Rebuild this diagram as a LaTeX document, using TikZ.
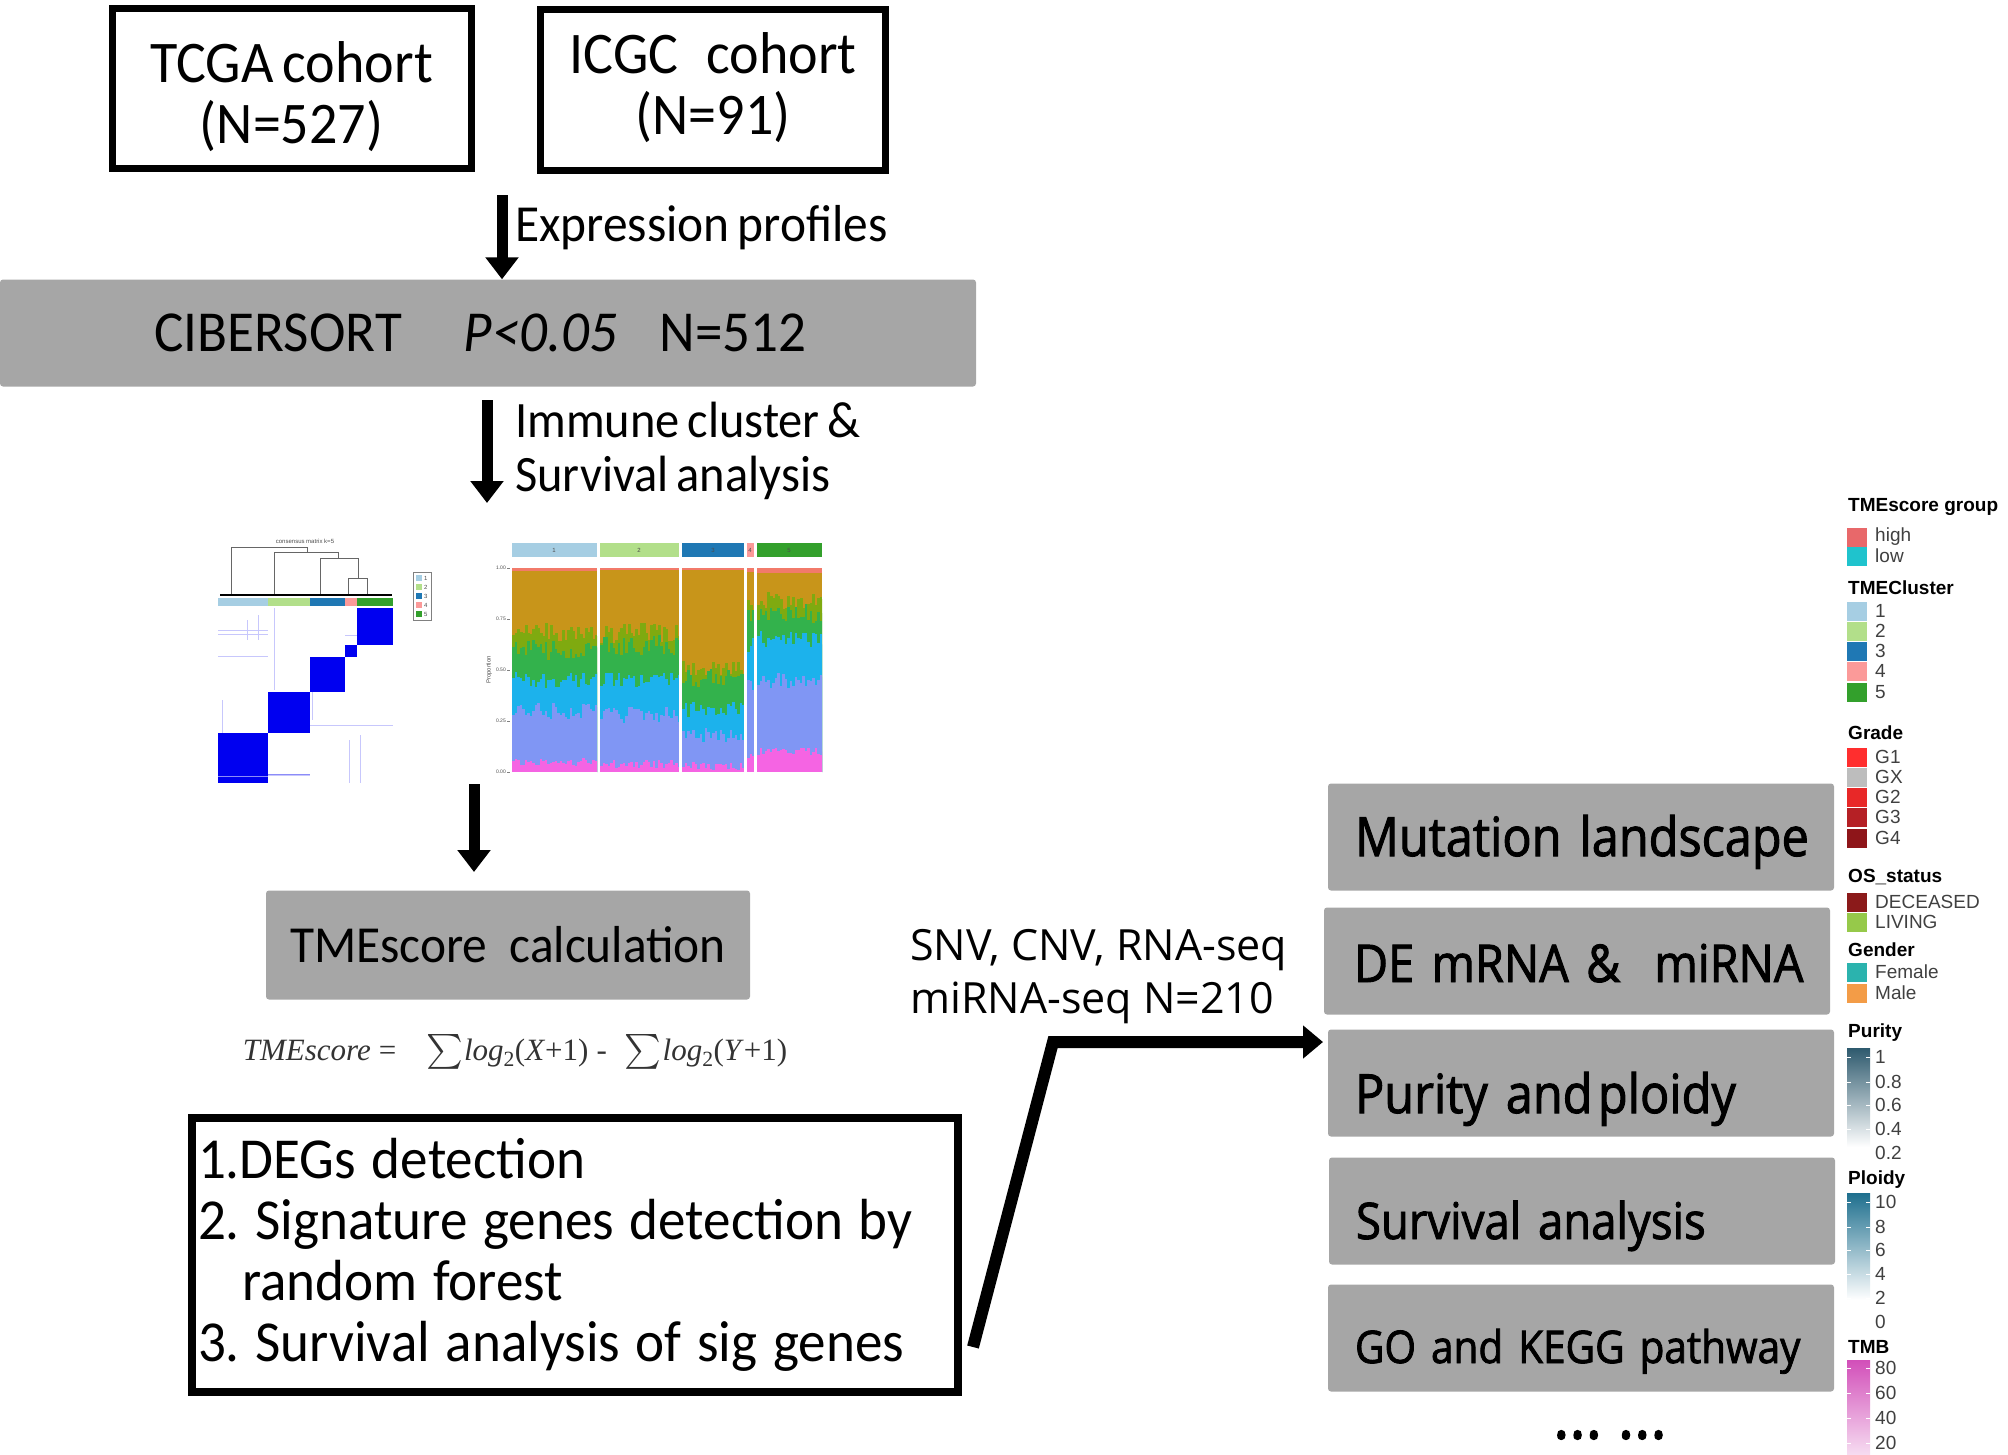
\documentclass[tikz,border=0pt]{standalone}
\usepackage{fontspec}
\usepackage{exscale}
\setmainfont[FakeStretch=0.95,WordSpace=0.72]{Carlito}
\newfontfamily\boxfont[FakeBold=1.8,FakeStretch=0.9]{Open Sans}
\newfontfamily\snvfont{Open Sans}
\newfontfamily\lgfont{Liberation Sans}
\newfontfamily\tnr{Liberation Serif}
\usetikzlibrary{arrows.meta,calc}
\definecolor{boxgray}{HTML}{A6A6A6}
\definecolor{hblue}{HTML}{0000F0}
\definecolor{k1}{HTML}{A6CEE3}
\definecolor{k2}{HTML}{B2DF8A}
\definecolor{k3}{HTML}{1F78B4}
\definecolor{k4}{HTML}{FB9A99}
\definecolor{k5}{HTML}{33A02C}
\definecolor{cpink}{HTML}{F564E3}
\definecolor{cperi}{HTML}{8096F4}
\definecolor{ccyan}{HTML}{1CB2EC}
\definecolor{cgreen}{HTML}{33B24C}
\definecolor{colive}{HTML}{7FAA10}
\definecolor{cgold}{HTML}{C8951A}
\definecolor{csalmon}{HTML}{F27A6A}
\definecolor{lhigh}{HTML}{E8686A}
\definecolor{llow}{HTML}{1FC3CD}
\definecolor{gone}{HTML}{FF2E2E}
\definecolor{gx}{HTML}{BDBDBD}
\definecolor{gtwo}{HTML}{E82828}
\definecolor{gthree}{HTML}{B52025}
\definecolor{gfour}{HTML}{8E1519}
\definecolor{dec}{HTML}{8B1A1A}
\definecolor{liv}{HTML}{96C94A}
\definecolor{fem}{HTML}{2BB3AE}
\definecolor{mal}{HTML}{F39C47}
\definecolor{pur}{HTML}{2E5A6E}
\definecolor{plo}{HTML}{1E6F8E}
\definecolor{tmb}{HTML}{D24FB9}
\frenchspacing
\begin{document}
\begin{tikzpicture}[x=1pt,y=-1pt,
  cohort/.style={draw, line width=7pt, align=center, inner sep=0pt, font=\fontsize{59}{61}\selectfont},
  gbox/.style={fill=boxgray, rounded corners=3pt, inner sep=0pt},
  rbox/.style={gbox, minimum height=107pt, text width=452pt, inner xsep=27pt, text depth=0pt, align=left},
  lbl/.style={inner sep=0pt, font=\fontsize{52}{56}\selectfont},
  fat/.style={line width=11pt, -{Triangle[width=32pt,length=22pt]}},
  conn/.style={line width=12pt, line join=miter, -{Triangle[width=32pt,length=20pt]}},
  lgtitle/.style={font=\lgfont\bfseries\fontsize{19}{21}\selectfont, anchor=west, inner sep=0pt},
  lglab/.style={font=\lgfont\fontsize{19}{21}\selectfont, anchor=west, inner sep=0pt, text=black!75},
  tiny/.style={font=\lgfont\fontsize{6}{7}\selectfont, inner sep=0pt, text=black!70}]
\useasboundingbox (0,0) rectangle (2008,1454);

% ---------- top ----------
\node[cohort, minimum width=359pt, minimum height=160pt] (tcga) at (291.5,88)
  {\raisebox{-13pt}[\height][\depth]{\begin{tabular}{@{}c@{}}TCGA cohort\\(N=527)\end{tabular}}};
\node[cohort, minimum width=345pt, minimum height=161pt] (icgc) at (713,90)
  {\raisebox{-2pt}[\height][\depth]{\begin{tabular}{@{}c@{}}ICGC\hspace{28pt}cohort\\(N=91)\end{tabular}}};
\node[gbox, minimum width=976pt, minimum height=107pt, font=\fontsize{58}{60}\selectfont] (cib) at (488,333)
  {CIBERSORT\hspace{62pt}\textit{P<0.05}\hspace{42pt}N=512\hspace*{15pt}};
\coordinate (a1s) at (502,195);
\draw[fat] (a1s) -- (a1s |- cib.north);
\node[lbl, anchor=west] (expr) at (515,228) {Expression profiles};

\coordinate (a2s) at (487,400);
\coordinate (a2e) at (487,503);
\draw[fat] (a2s) -- (a2e);
\node[lbl, anchor=west, align=left, font=\fontsize{51}{54}\selectfont] (immune) at (515,451) {Immune cluster \&\\Survival analysis};

% ---------- consensus heatmap ----------
\fill[k1] (218,598) rectangle (268,606);
\fill[k2] (268,598) rectangle (310,606);
\fill[k3] (310,598) rectangle (345,606);
\fill[k4] (345,598) rectangle (357,606);
\fill[k5] (357,598) rectangle (393,606);
\begin{scope}[hblue!22, line width=0.8pt]
  \draw (218,630) -- (268,630); \draw (218,634) -- (268,634); \draw (218,656) -- (268,656);
  \draw (274,608) -- (274,690); \draw (258,615) -- (258,640); \draw (247,620) -- (247,640);
  \draw (222,700) -- (222,735); \draw (349,740) -- (349,783); \draw (360,735) -- (360,783);
  \draw (268,775) -- (310,775); \draw (268,692) -- (310,692); \draw (345,635) -- (393,635);
  \draw (312,680) -- (312,720); \draw (310,725) -- (393,725);
\end{scope}
\fill[hblue] (357,608) rectangle (393,645);
\fill[hblue] (345,645) rectangle (357,657);
\fill[hblue] (310,657) rectangle (345,692);
\fill[hblue] (268,692) rectangle (310,733);
\fill[hblue] (218,733) rectangle (268,783);
\draw[hblue!45, line width=1pt] (218,776) -- (268,776) (268,774) -- (310,774);
\begin{scope}[black!60, line width=1pt]
  \draw (231,594) -- (231,547) -- (307,547) -- (307,552);
  \draw (274,594) -- (274,552) -- (338,552) -- (338,558);
  \draw (320,594) -- (320,558) -- (358,558) -- (358,578);
  \draw (348,594) -- (348,578) -- (367,578) -- (367,594);
\end{scope}
\draw[black, line width=1.5pt] (220,595) -- (392,595);
\node[tiny] (hmtitle) at (305,541) {consensus matrix k=5};
\draw[black!50, line width=0.5pt] (413,572) rectangle (431,620);
\foreach \c/\yy/\t in {k1/578/1,k2/587/2,k3/596/3,k4/605/4,k5/614/5}{
  \fill[\c] (416,\yy-3) rectangle (422,\yy+3);
  \node[tiny, anchor=west] at (424,\yy) {\t};
}

% ---------- stacked bar chart ----------
\pgfmathsetseed{7}
\foreach \xa/\xb/\pa/\pb/\pc/\pd/\pe/\tp in {512/597/0.05/0.30/0.45/0.60/0.68/0.985, 600/679/0.04/0.28/0.45/0.62/0.68/0.99, 682/744/0.03/0.18/0.31/0.46/0.50/0.99, 747/754/0.08/0.42/0.62/0.75/0.82/0.98, 757/822/0.10/0.45/0.65/0.78/0.84/0.975}{
  \fill[csalmon] (\xa,568) rectangle (\xb,772);
  \fill[cgold] (\xa,{772-204*\tp}) rectangle (\xb,772);
  \pgfmathtruncatemacro\ncol{(\xb-\xa)/2.5}
  \foreach \i in {0,...,\ncol}{
    \pgfmathsetmacro\xl{\xa+\i*2.5}
    \pgfmathsetmacro\xr{min(\xl+3,\xb)}
    \pgfmathsetmacro\ve{772-204*(\pe+0.05*rand)}
    \pgfmathsetmacro\vd{772-204*(\pd+0.05*rand)}
    \pgfmathsetmacro\vc{772-204*(\pc+0.04*rand)}
    \pgfmathsetmacro\vb{772-204*(\pb+0.04*rand)}
    \pgfmathsetmacro\va{772-204*(\pa+0.02*rand)}
    \fill[colive] (\xl,\ve) rectangle (\xr,772);
    \fill[cgreen] (\xl,\vd) rectangle (\xr,772);
    \fill[ccyan] (\xl,\vc) rectangle (\xr,772);
    \fill[cperi] (\xl,\vb) rectangle (\xr,772);
    \fill[cpink] (\xl,\va) rectangle (\xr,772);
  }
}
\fill[k1] (512,543) rectangle (597,557);
\fill[k2] (600,543) rectangle (679,557);
\fill[k3] (682,543) rectangle (744,557);
\fill[k4] (747,543) rectangle (754,557);
\fill[k5] (757,543) rectangle (822,557);
\foreach \xx/\t in {554/1,639/2,713/3,750/4,789/5}{\node[tiny] at (\xx,550) {\t};}
\foreach \yy/\t in {568/1.00,619/0.75,670/0.50,721/0.25,772/0.00}{
  \node[tiny, anchor=east, font=\lgfont\fontsize{5}{6}\selectfont] at (506,\yy) {\t};
  \draw[black!50, line width=0.5pt] (507,\yy) -- (510,\yy);
}
\node[tiny, rotate=90] (prop) at (489,670) {Proportion};

\coordinate (a3s) at (474,784);
\coordinate (a3e) at (474,872);
\draw[fat] (a3s) -- (a3e);

% ---------- TMEscore ----------
\node[gbox, minimum width=484pt, minimum height=109pt, font=\fontsize{52}{54}\selectfont] (tme) at (508,945) {TMEscore\hspace{22pt}calculation};
\node[inner sep=0pt, text=black!80, font=\tnr\fontsize{31}{34}\selectfont] (form) at (515,1052)
  {\textit{TMEscore}\hspace{8pt}=\hspace{30pt}{\fontsize{33}{33}\selectfont\scalebox{1.4}{$\sum$}}\hspace{1pt}\textit{log}\textsubscript{2}(\textit{X}+1)\hspace{8pt}-\hspace{18pt}{\fontsize{33}{33}\selectfont\scalebox{1.4}{$\sum$}}\hspace{1pt}\textit{log}\textsubscript{2}(\textit{Y}+1)};

\node[draw, line width=8pt, minimum width=766pt, minimum height=274pt, text width=754pt, inner xsep=6pt, align=left, font=\fontsize{58}{61}\selectfont] (sig) at (575,1255)
  {\spaceskip=0.27em\relax\mbox{1.DEGs detection}\\\mbox{2. Signature genes detection by}\\\mbox{\hspace*{44pt}random forest}\\\mbox{3. Survival analysis of sig genes}};

\node[inner sep=0pt, anchor=west, align=left, font=\snvfont\fontsize{43}{53}\selectfont] (snv) at (910,977) {SNV, CNV, RNA-seq\\miRNA-seq N=210};

% ---------- right boxes ----------
\node[rbox, text height=38pt, font=\boxfont\fontsize{54}{56}\selectfont] (mut) at (1581,837) {\mbox{Mutation landscape}};
\node[rbox, text height=42pt, font=\boxfont\fontsize{52}{56}\selectfont] (de) at (1577,961) {\mbox{\hspace*{3pt}DE mRNA \&\hspace{34pt}miRNA}};
\node[rbox, text height=60pt, font=\boxfont\fontsize{54}{56}\selectfont] (puri) at (1581,1083) {\mbox{Purity and\hspace{0.1em}ploidy}};
\node[rbox, text height=56pt, font=\boxfont\fontsize{50.5}{56}\selectfont] (surv) at (1582,1211) {\mbox{Survival analysis}};
\node[rbox, text height=50pt, font=\boxfont\fontsize{45}{56}\selectfont] (go) at (1581,1338) {\mbox{GO and KEGG pathway}};
\node[inner sep=0pt, font=\boxfont\fontsize{68}{68}\selectfont] (dots) at (1610,1435) {... ...};

\coordinate (c0) at (973,1347);
\coordinate (c1) at (1053,1042);
\coordinate (c2) at (1323,1042);
\draw[conn] (c0) -- (c1) -- (c2);

% ---------- legend ----------
\node[lgtitle] at (1848,507) {TMEscore group};
\node[lgtitle] at (1848,588) {TMECluster};
\node[lgtitle] at (1848,733) {Grade};
\node[lgtitle] at (1848,877) {OS\_status};
\node[lgtitle] at (1848,950) {Gender};
\node[lgtitle] at (1848,1033) {Purity};
\node[lgtitle] at (1848,1180) {Ploidy};
\node[lgtitle] at (1848,1347) {TMB};
\foreach \c/\yy/\t in {lhigh/537/high, llow/556/low, k1/611/1, k2/631/2, k3/651/3, k4/671/4, k5/692/5,
  gone/757/G1, gx/777/GX, gtwo/797/G2, gthree/817/G3, gfour/838/G4, dec/902/DECEASED, liv/922/LIVING,
  fem/972/Female, mal/993/Male}{
  \fill[\c] (1847,\yy-9.5) rectangle (1867,\yy+9.5);
  \node[lglab] at (1875,\yy) {\t};
}
\shade[top color=pur, bottom color=white] (1847,1048) rectangle (1870,1147);
\shade[top color=plo, bottom color=white] (1847,1193) rectangle (1870,1300);
\shade[top color=tmb, bottom color=tmb!20] (1847,1360) rectangle (1870,1454);
\foreach \yy/\t in {1057/1, 1082/0.8, 1105/0.6, 1129/0.4, 1153/0.2, 1202/10, 1227/8, 1250/6, 1274/4, 1298/2, 1322/0, 1368/80, 1393/60, 1418/40, 1443/20}{
  \node[lglab] at (1875,\yy) {\t};
}
\foreach \yy in {1057,1082,1105,1129,1202,1227,1250,1274,1298,1368,1393,1418,1443}{
  \draw[white, line width=1pt] (1847,\yy) -- (1851,\yy) (1866,\yy) -- (1870,\yy);
}
\end{tikzpicture}
\end{document}
